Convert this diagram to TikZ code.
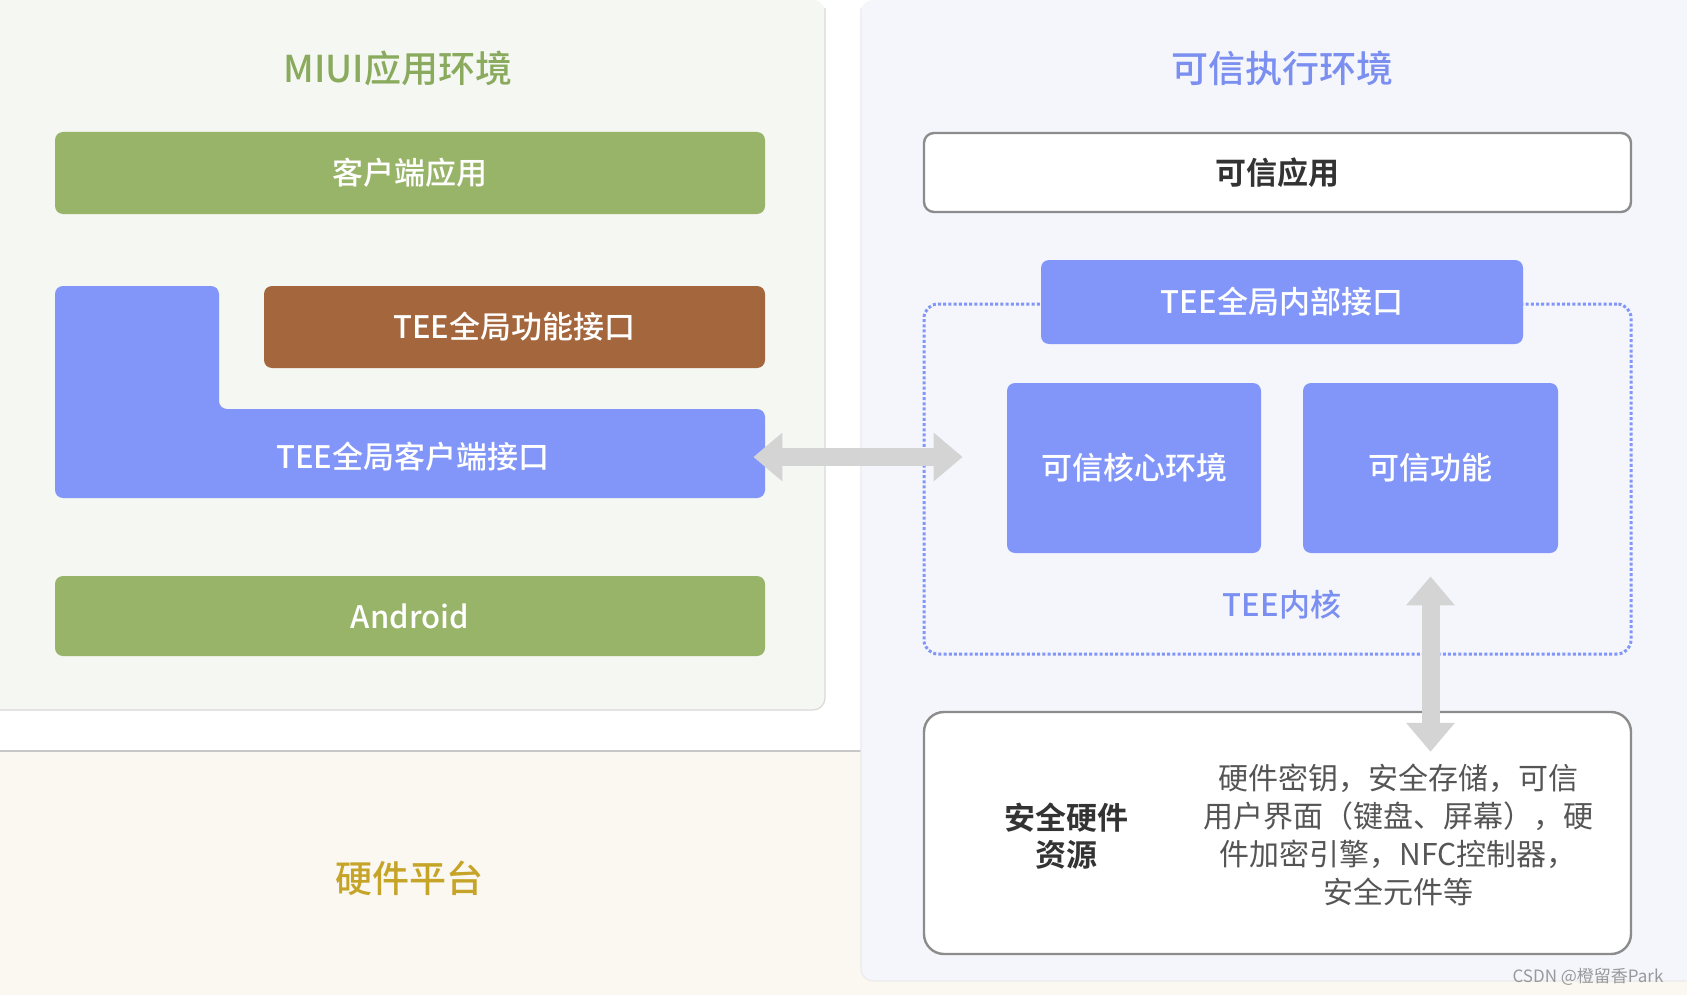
\documentclass[tikz,border=0pt]{standalone}
\usepackage{fontspec}
\setmainfont{Noto Sans CJK SC}[BoldFont={Noto Sans CJK SC Medium}]
\newfontfamily\heavyfont{Noto Sans CJK SC Bold}
\usepackage{tikz}
\usetikzlibrary{arrows.meta,positioning,calc}
\definecolor{leftbg}{HTML}{F5F7F3}
\definecolor{rightbg}{HTML}{F4F6FC}
\definecolor{hwbg}{HTML}{FAF8F1}
\definecolor{miuigreen}{HTML}{98B468}
\definecolor{titlegreen}{HTML}{8AAA5E}
\definecolor{teebrown}{HTML}{A3663D}
\definecolor{teeblue}{HTML}{8196F8}
\definecolor{titleblue}{HTML}{7B8FF0}
\definecolor{hwgold}{HTML}{C6A427}
\definecolor{arrgray}{HTML}{D4D4D4}
\definecolor{boxgray}{HTML}{8C8C8C}
\definecolor{txtgray}{HTML}{555555}
\tikzset{
  envtitle/.style={font=\fontsize{18.5}{22}\selectfont\bfseries},
  fillbox/.style={rounded corners=4pt, text=white, inner sep=0pt, font=\fontsize{15.5}{18}\selectfont\bfseries},
  greenbox/.style={fillbox, fill=miuigreen, minimum width=355pt},
  bluebox/.style={fillbox, fill=teeblue},
  whitebox/.style={draw=boxgray, line width=1.2pt, fill=white, inner sep=0pt, text=black!80, font=\fontsize{15.5}{18}\selectfont\heavyfont},
  kernelbox/.style={draw=teeblue, line width=1.5pt, dash pattern=on 1.5pt off 1.1pt, rounded corners=7pt, inner sep=0pt},
  bigarr/.style={arrgray, line width=9pt, {Triangle[width=23.5pt,length=14.5pt]}-{Triangle[width=23.5pt,length=14.5pt]}},
}

\begin{document}
\begin{tikzpicture}[x=0.5pt,y=-0.5pt]
  \useasboundingbox (0,0) rectangle (1687,995);
  % backgrounds
  \fill[white] (0,0) rectangle (1687,995);
  \fill[hwbg] (0,751) rectangle (1687,995);
  \draw[black!22, line width=0.6pt] (0,751) -- (861,751);
  \fill[leftbg, rounded corners=6pt] (-20,0) rectangle (825,710);
  \draw[black!15, line width=0.6pt, rounded corners=6pt] (825,8) -- (825,710) -- (-20,710);
  \fill[rightbg, rounded corners=6pt] (861,0) rectangle (1707,981);
  \draw[black!8, line width=0.6pt, rounded corners=6pt] (861,8) -- (861,981) -- (1707,981);

  % MIUI side
  \node[envtitle, text=titlegreen] (miuititle) at (398,68) {MIUI应用环境};
  \node[greenbox, minimum height=41pt] (cliapp) at (410,173) {客户端应用};
  \node[fillbox, fill=teebrown, minimum width=250.5pt, minimum height=41pt] (teefunc) at (514.5,327) {TEE全局功能接口};
  \fill[teeblue, rounded corners=4pt] (55,498) -- (55,286) -- (219,286) -- (219,409) -- (765,409) -- (765,498) -- cycle;
  \node[fillbox, minimum width=355pt, minimum height=44.5pt] (cli) at (413,457) {TEE全局客户端接口};
  \node[greenbox, minimum height=40pt] (android) at (410,616) {Android};
  \node[envtitle, text=hwgold] (hwtitle) at (409,878) {硬件平台};

  % TEE side
  \node[envtitle, text=titleblue] (teetitle) at (1282,68) {可信执行环境};
  \node[whitebox, rounded corners=5pt, minimum width=353.5pt, minimum height=39.5pt] (tapp) at (1277.5,172.5) {可信应用};
  \node[kernelbox, minimum width=353.5pt, minimum height=175pt] (kernel) at (1277.5,479) {};
  \node[bluebox, minimum width=241pt, minimum height=42pt] (tint) at (1282,302) {TEE全局内部接口};
  \node[bluebox, minimum width=127pt, minimum height=85pt] (core) at (1134,468) {可信核心环境};
  \node[bluebox, minimum width=127.5pt, minimum height=85pt] (func) at (1430.5,468) {可信功能};
  \node[text=titleblue, font=\fontsize{15.5}{18}\selectfont\bfseries] (kernellbl) at (1282,605) {TEE内核};
  \node[whitebox, rounded corners=10pt, minimum width=353.5pt, minimum height=121pt] (hw) at (1277.5,833) {};
  \node[align=center, text=black!80, font=\fontsize{15.5}{18.5}\selectfont\heavyfont] (hwlbl) at (1066,836) {安全硬件\\资源};
  \node[align=center, text=txtgray, font=\fontsize{15}{19}\selectfont] (hwdesc) at (1398,835) {硬件密钥，安全存储，可信\\用户界面（键盘、屏幕），硬\\件加密引擎，NFC控制器，\\安全元件等};

  % links
  \draw[bigarr] ($(cli.east)+(-15,0)$) -- ($(cli.east -| core.west)+(-44,0)$);
  \draw[bigarr] ($(func.south)+(0,23)$) -- ($(func.south |- hw.north)+(0,41)$);

  \node[text=black!40, font=\fontsize{8.5}{10}\selectfont] (mark) at (1588,977) {CSDN @橙留香Park};
\end{tikzpicture}
\end{document}
